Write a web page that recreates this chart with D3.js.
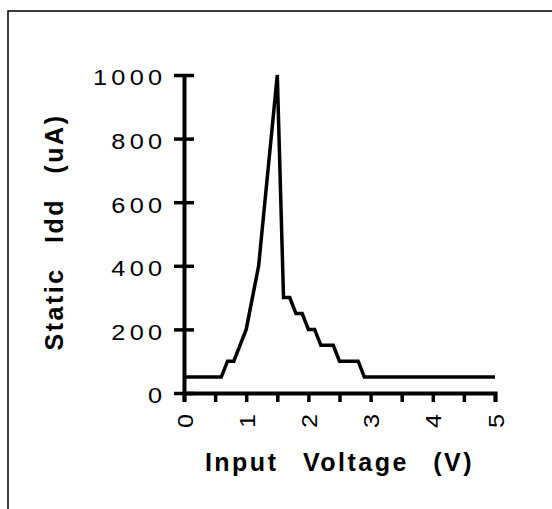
<!DOCTYPE html>
<html>
<head>
<meta charset="utf-8">
<script src="https://cdn.jsdelivr.net/npm/d3@7"></script>
<style>
  body { margin: 0; background: #fff; }
  text { font-family: "Liberation Sans", Arial, sans-serif; fill: #000; }
</style>
</head>
<body>
<div id="chart"></div>
<script>
// static supply current vs input voltage
const volts = [0, 0.6, 0.7, 0.8, 0.9, 1.0, 1.1, 1.2, 1.3, 1.4, 1.5, 1.6, 1.7, 1.8, 1.9, 2.0, 2.1, 2.2, 2.4, 2.5, 2.8, 2.9, 5.0];
const idd = [50, 50, 100, 100, 150, 200, 300, 400, 600, 800, 1000, 300, 300, 250, 250, 200, 200, 150, 150, 100, 100, 50, 50];

const xTicks = [0, 0.5, 1, 1.5, 2, 2.5, 3, 3.5, 4, 4.5, 5];
const xLabels = [0, 1, 2, 3, 4, 5];
const yTicks = [0, 200, 400, 600, 800, 1000];

const width = 552, height = 509;
const svg = d3.select("#chart").append("svg")
  .attr("width", width)
  .attr("height", height);

// outer frame (runs off the right and bottom edges)
svg.append("rect")
  .attr("x", 8).attr("y", 11)
  .attr("width", 600).attr("height", 600)
  .attr("fill", "none")
  .attr("stroke", "#000")
  .attr("stroke-width", 1.5);

const x = d3.scaleLinear().domain([0, 5]).range([184, 495]);
const y = d3.scaleLinear().domain([0, 1000]).range([393, 75]);

// y axis
const yAxis = svg.append("g")
  .attr("transform", `translate(${x(0)},0)`)
  .call(d3.axisLeft(y).tickValues(yTicks).tickSizeOuter(0).tickFormat(d3.format("d")));
yAxis.select(".domain").attr("stroke-width", 4);
yAxis.selectAll(".tick line")
  .attr("x1", -10).attr("x2", 10)
  .attr("stroke-width", 3.5);
yAxis.selectAll(".tick text")
  .attr("x", -15.4)
  .attr("dy", "0.45em")
  .attr("transform", "scale(1.15,1)")
  .style("font-size", "22px")
  .style("letter-spacing", "3.7px");

// x axis
const xAxis = svg.append("g")
  .attr("transform", `translate(0,${y(0)})`)
  .call(d3.axisBottom(x).tickValues(xTicks).tickSizeOuter(0).tickSize(9)
    .tickFormat(d => xLabels.includes(d) ? d3.format("d")(d) : ""));
xAxis.select(".domain").attr("stroke-width", 4);
xAxis.selectAll(".tick line").attr("stroke-width", 3.5);
xAxis.selectAll(".tick text")
  .attr("y", null).attr("dy", null)
  .attr("text-anchor", "end")
  .attr("transform", "translate(8,21) rotate(-90) scale(1.15,1)")
  .style("font-size", "22px");

yAxis.selectAll("text").attr("font-family", null);
xAxis.selectAll("text").attr("font-family", null);

const line = d3.line()
  .x((d, i) => x(volts[i]))
  .y(d => y(d));

svg.append("path")
  .datum(idd)
  .attr("fill", "none")
  .attr("stroke", "#000")
  .attr("stroke-width", 3.5)
  .attr("stroke-linejoin", "miter")
  .attr("d", line);

// axis titles
svg.append("text")
  .attr("x", (x(0) + x(5)) / 2)
  .attr("y", 471)
  .attr("text-anchor", "middle")
  .style("font-size", "25px")
  .style("font-weight", "bold")
  .style("letter-spacing", "2.5px")
  .style("word-spacing", "15px")
  .text("Input Voltage (V)");

svg.append("text")
  .attr("transform", "translate(63,232) rotate(-90)")
  .attr("text-anchor", "middle")
  .style("font-size", "25px")
  .style("font-weight", "bold")
  .style("letter-spacing", "2.5px")
  .style("word-spacing", "15px")
  .text("Static Idd (uA)");
</script>
</body>
</html>
